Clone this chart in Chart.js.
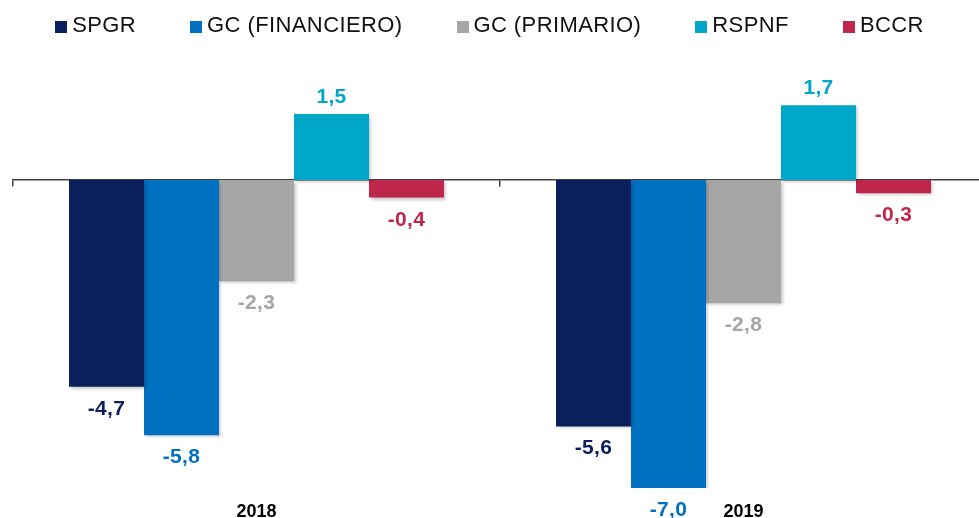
<!DOCTYPE html>
<html>
<head>
<meta charset="utf-8">
<script src="https://cdn.jsdelivr.net/npm/chart.js@4"></script>
<style>
  html, body { margin: 0; padding: 0; background: #fff; overflow: hidden; width: 979px; height: 518px; }
  #wrap { position: absolute; left: 0; top: 0; width: 1000px; height: 518px; }
  #legend { position: absolute; left: 0; top: 13px; width: 979px; display: flex; justify-content: center; gap: 54px;
            font-family: "Liberation Sans", Arial, sans-serif; font-size: 22px; line-height: 24px; letter-spacing: 0.4px;
            color: #111; z-index: 2; }
  .item { display: flex; align-items: center; white-space: nowrap; }
  .box { width: 12px; height: 12px; margin-right: 5px; margin-top: 3px; }
</style>
</head>
<body>
<div id="wrap"><canvas id="fiscalChart"></canvas></div>
<div id="legend"></div>
<script>
const categories = ['2018', '2019'];
const seriesNames = ['SPGR', 'GC (FINANCIERO)', 'GC (PRIMARIO)', 'RSPNF', 'BCCR'];
const spgr = [-4.7, -5.6];
const gcFinanciero = [-5.8, -7.0];
const gcPrimario = [-2.3, -2.8];
const rspnf = [1.5, 1.7];
const bccr = [-0.4, -0.3];
const colors = ['#0b1f5c', '#0070c0', '#a6a6a6', '#00a6c5', '#bf264c'];

const seriesValues = [spgr, gcFinanciero, gcPrimario, rspnf, bccr];

// legend built as html so spacing can match
const legendEl = document.getElementById('legend');
seriesNames.forEach((name, i) => {
    const item = document.createElement('div');
    item.className = 'item';
    const box = document.createElement('span');
    box.className = 'box';
    box.style.background = colors[i];
    const txt = document.createElement('span');
    txt.textContent = name;
    item.appendChild(box);
    item.appendChild(txt);
    legendEl.appendChild(item);
});

const fmt = v => v.toFixed(1).replace('.', ',');

const valueLabels = {
    id: 'valueLabels',
    beforeDatasetsDraw(chart) {
        const c = chart.ctx;
        c.save();
        c.shadowColor = 'rgba(0,0,0,0.22)';
        c.shadowOffsetX = 2;
        c.shadowOffsetY = 2;
        c.shadowBlur = 3;
    },
    afterDatasetsDraw(chart) {
        const c = chart.ctx;
        c.restore();
        c.save();
        c.font = 'bold 21px "Liberation Sans", Arial, sans-serif';
        c.letterSpacing = '0.3px';
        c.textAlign = 'center';
        c.textBaseline = 'alphabetic';
        chart.data.datasets.forEach((ds, di) => {
            const meta = chart.getDatasetMeta(di);
            meta.data.forEach((bar, i) => {
                const v = ds.data[i];
                c.fillStyle = ds.backgroundColor;
                const y = v >= 0 ? bar.y - 11 : bar.y + 28;
                c.fillText(fmt(v), bar.x, y);
            });
        });
        c.restore();
    }
};

const ctx = document.getElementById('fiscalChart').getContext('2d');
const chart = new Chart(ctx, {
    type: 'bar',
    data: {
        labels: categories,
        datasets: seriesNames.map((name, i) => ({
            label: name,
            data: seriesValues[i],
            backgroundColor: colors[i],
            borderWidth: 0,
            categoryPercentage: 0.77,
            barPercentage: 1.0
        }))
    },
    options: {
        responsive: true,
        maintainAspectRatio: false,
        animation: false,
        layout: { padding: { left: 13, right: 13, top: 70, bottom: 0 } },
        plugins: {
            legend: { display: false },
            tooltip: { enabled: false }
        },
        scales: {
            x: {
                offset: true,
                grid: { display: false, drawTicks: false },
                border: { display: false },
                ticks: {
                    color: '#000',
                    padding: 13,
                    font: { family: '"Liberation Sans", Arial, sans-serif', size: 18, weight: 'bold' }
                },
                afterFit: s => { s.height = 30; }
            },
            x2: {
                type: 'category',
                labels: categories,
                position: { y: 0 },
                offset: true,
                grid: { display: true, offset: true, drawOnChartArea: false, drawTicks: true, tickLength: 6, color: '#404040', lineWidth: 1.5 },
                border: { display: true, color: '#404040', width: 1.5 },
                ticks: { display: false },
                afterFit: s => { s.height = 0; }
            },
            y: {
                display: false,
                min: -7,
                max: 2.5
            }
        }
    },
    plugins: [valueLabels]
});
</script>
</body>
</html>
